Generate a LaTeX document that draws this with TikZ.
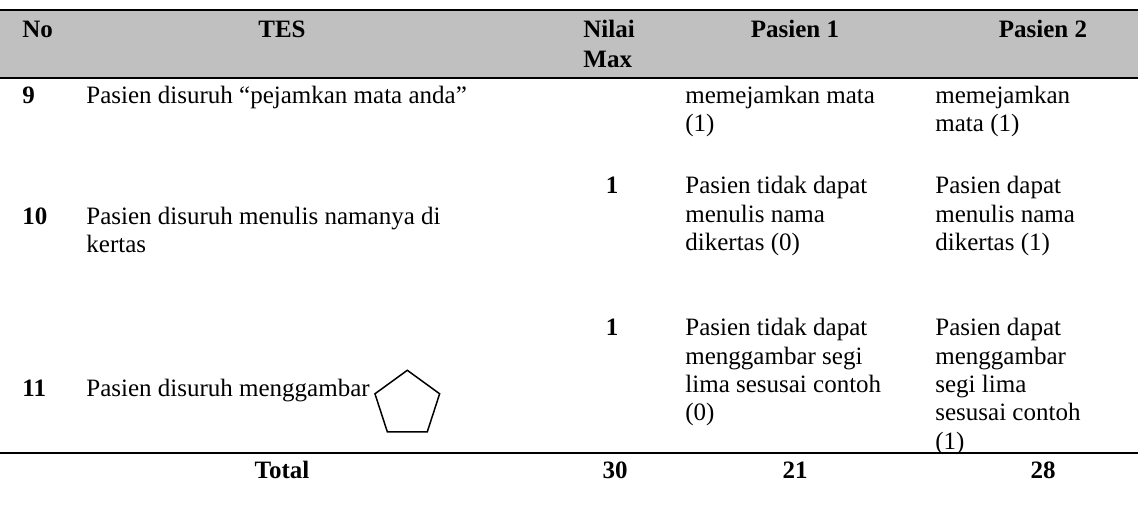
\documentclass[tikz,border=0pt]{standalone}
\usepackage{fontspec}
\setmainfont{Liberation Serif}
\usetikzlibrary{shapes.geometric}
\definecolor{headgray}{RGB}{192,192,192}

\begin{document}
\begin{tikzpicture}[x=0.5pt,y=-0.5pt,font=\fontsize{12.5}{14}\selectfont,
  celltext/.style={anchor=base west,inner sep=0pt},
  cellmid/.style={anchor=base,inner sep=0pt},
  boldtext/.style={font=\fontsize{12.5}{14}\selectfont\bfseries},
  tablerule/.style={line width=1.2pt}]
\useasboundingbox (0,0) rectangle (1138,518);
  % Header band and rules
  \fill[headgray] (0,10) rectangle (1138,78);
  \draw[tablerule] (0,10) -- (1138,10);
  \draw[tablerule] (0,78) -- (1138,78);
  \draw[tablerule] (0,453) -- (1138,453);
  % Header labels
  \node[celltext,boldtext] (hno) at (22,38) {No};
  \node[cellmid,boldtext] (htes) at (282,38) {TES};
  \node[celltext,boldtext] (hnilai) at (583,38) {Nilai};
  \node[celltext,boldtext] (hmax) at (583,68) {Max};
  \node[cellmid,boldtext] (hp1) at (795,38) {Pasien 1};
  \node[cellmid,boldtext] (hp2) at (1043,38) {Pasien 2};
  %row 9
  \node[celltext,boldtext] (no9) at (22,104) {9};
  \node[celltext] (tes9) at (86,104) {Pasien disuruh ``pejamkan mata anda''};
  \foreach \y/\val [count=\i] in {104/memejamkan mata,132/(1)}
    \node[celltext] (pa9\i) at (685,\y) {\val};
  \foreach \y/\val [count=\i] in {104/memejamkan,132/mata (1)}
    \node[celltext] (pb9\i) at (935,\y) {\val};
  %row 10
  \node[celltext,boldtext] (no10) at (22,224) {10};
  \foreach \y/\val [count=\i] in {224/Pasien disuruh menulis namanya di,252/kertas}
    \node[celltext] (tes10\i) at (86,\y) {\val};
  \node[cellmid,boldtext] (max10) at (612,193) {1};
  \foreach \y/\val [count=\i] in {193/Pasien tidak dapat,222/menulis nama,250/dikertas (0)}
    \node[celltext] (pa10\i) at (685,\y) {\val};
  \foreach \y/\val [count=\i] in {193/Pasien dapat,222/menulis nama,250/dikertas (1)}
    \node[celltext] (pb10\i) at (935,\y) {\val};
  %row 11
  \node[celltext,boldtext] (no11) at (22,396) {11};
  \node[celltext] (tes11) at (86,396) {Pasien disuruh menggambar};
  \node[draw,regular polygon,regular polygon sides=5,minimum size=34pt,
    inner sep=0pt,line width=0.75pt,anchor=corner 2,xshift=2pt,yshift=1.25pt] (pentagon) at (tes11.base east) {};
  \node[cellmid,boldtext] (max11) at (612,335) {1};
  \foreach \y/\val [count=\i] in {335/Pasien tidak dapat,364/menggambar segi,392/lima sesusai contoh,420/(0)}
    \node[celltext] (pa11\i) at (685,\y) {\val};
  \foreach \y/\val [count=\i] in {335/Pasien dapat,364/menggambar,392/segi lima,420/sesusai contoh,449/(1)}
    \node[celltext] (pb11\i) at (935,\y) {\val};
  % Total row
  \foreach \x/\val [count=\i] in {282/Total,615/30,795/21,1043/28}
    \node[cellmid,boldtext] (tot\i) at (\x,478) {\val};
\end{tikzpicture}
\end{document}
